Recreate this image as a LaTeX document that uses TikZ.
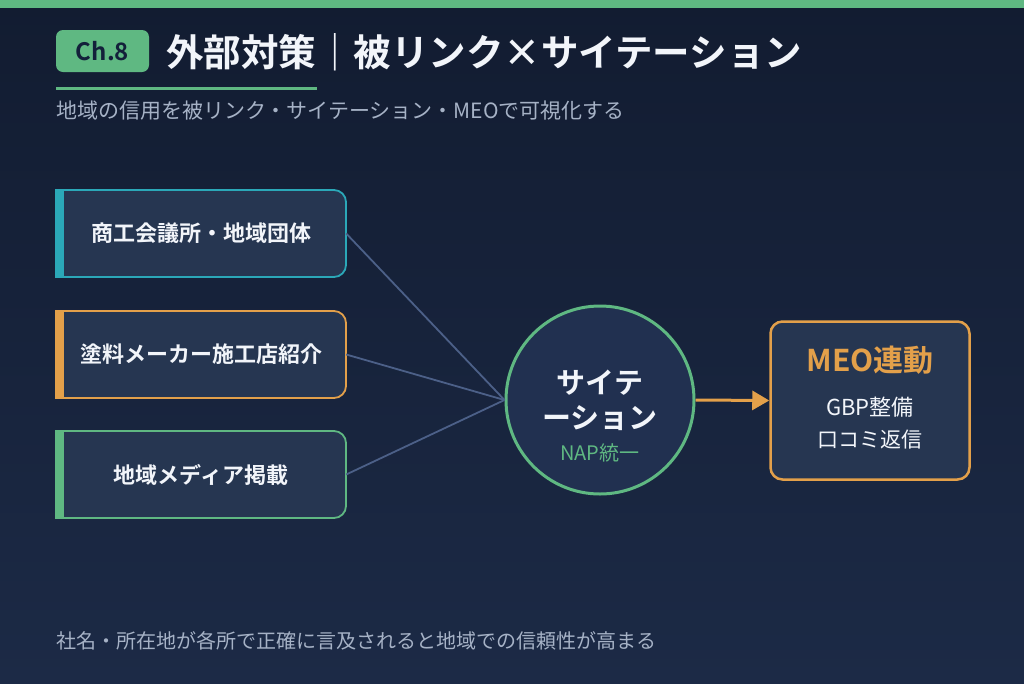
\documentclass[tikz,border=0pt]{standalone}
\usepackage{fontspec}
\setmainfont{Noto Sans CJK JP}[BoldFont={Noto Sans CJK JP Bold}]
\usetikzlibrary{arrows.meta}
\definecolor{bgtop}{HTML}{121C31}
\definecolor{bgbot}{HTML}{1C2A46}
\definecolor{boxfill}{HTML}{263651}
\definecolor{circfill}{HTML}{213050}
\definecolor{accgreen}{HTML}{5FB882}
\definecolor{accteal}{HTML}{2BA8B8}
\definecolor{accorange}{HTML}{E3A04A}
\definecolor{linkcol}{HTML}{4C6088}
\definecolor{txtwhite}{HTML}{F2F5FA}
\definecolor{txtgray}{HTML}{A6B2C6}
\definecolor{badgetxt}{HTML}{13203A}
\newcommand{\fs}[1]{\fontsize{#1pt}{#1pt}\selectfont}
\newcommand{\lbox}[5]{% style x1 y1 x2 y2 : box with square left corners, rounded right corners
  \path[#1] (#2,#3) -- ({#4-12},#3) .. controls ({#4-5.4},#3) and (#4,{#3+5.4}) .. (#4,{#3+12})
   -- (#4,{#5-12}) .. controls (#4,{#5-5.4}) and ({#4-5.4},#5) .. ({#4-12},#5) -- (#2,#5) -- cycle;}
\begin{document}
\begin{tikzpicture}[x=1pt,y=-1pt,
  boxtext/.style={text=txtwhite, font=\fs{22}\bfseries, inner sep=0pt, minimum width=290pt, minimum height=87pt},
  link/.style={draw=linkcol, line width=1.8pt},
  plain/.style={inner sep=0pt}]
\useasboundingbox (0,0) rectangle (1024,683);
\shade[top color=bgtop, bottom color=bgbot] (0,0) rectangle (1024,683);
\fill[accgreen] (0,0) rectangle (1024,8);
% header
\fill[accgreen, rounded corners=7pt] (56,30) rectangle (149,72);
\node[plain, text=badgetxt, font=\fs{24}\bfseries] (badge) at (102.5,51) {Ch.8};
\node[plain, anchor=west, text=txtwhite, font=\fs{37.5}\bfseries] (title) at (166,52) {外部対策｜被リンク×サイテーション};
\fill[accgreen] (56,87) rectangle (317,90);
\node[plain, anchor=west, text=txtgray, font=\fs{21}] (sub) at (56,111) {地域の信用を被リンク・サイテーション・MEOで可視化する};
% left boxes
\lbox{fill=boxfill, draw=accteal, line width=1.8pt}{56}{190}{346}{277}
\fill[accteal] (56,190) rectangle (64,277);
\lbox{fill=boxfill, draw=accorange, line width=1.8pt}{56}{311}{346}{398}
\fill[accorange] (56,311) rectangle (64,398);
\lbox{fill=boxfill, draw=accgreen, line width=1.8pt}{56}{431}{346}{518}
\fill[accgreen] (56,431) rectangle (64,518);
\node[boxtext] (b1) at (201,233.5) {商工会議所・地域団体};
\node[boxtext] (b2) at (201,354.5) {塗料メーカー施工店紹介};
\node[boxtext] (b3) at (201,474.5) {地域メディア掲載};
% circle
\node[circle, draw=accgreen, line width=3pt, fill=circfill, minimum size=188pt, inner sep=0pt] (cit) at (600,400) {};
\node[plain, text=txtwhite, font=\fs{29}\bfseries] (c1) at (600,383) {サイテ};
\node[plain, text=txtwhite, font=\fs{29}\bfseries] (c2) at (600,418) {ーション};
\node[plain, text=accgreen, font=\fs{20}] (c3) at (600,453) {NAP統一};
% links
\draw[link] (b1.east) -- (cit.west);
\draw[link] (b2.east) -- (cit.west);
\draw[link] (b3.east) -- (cit.west);
% MEO box
\node[draw=accorange, line width=2.5pt, fill=boxfill, rounded corners=12pt, minimum width=199pt, minimum height=158pt, inner sep=0pt] (meo) at (870,400.5) {};
\node[plain, text=accorange, font=\fs{30}\bfseries] (m1) at (870,360) {MEO連動};
\node[plain, text=txtwhite, font=\fs{22}] (m2) at (870,407) {GBP整備};
\node[plain, text=txtwhite, font=\fs{21}] (m3) at (870,440) {口コミ返信};
\draw[accorange, line width=3pt, -{Triangle[length=17pt,width=19pt]}] (cit.east) -- (meo.west);
% footer
\node[plain, anchor=west, text=txtgray, font=\fs{20}] (foot) at (56,641) {社名・所在地が各所で正確に言及されると地域での信頼性が高まる};
\end{tikzpicture}
\end{document}
